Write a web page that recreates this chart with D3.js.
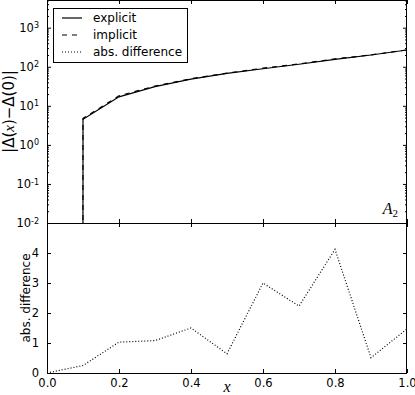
<!DOCTYPE html>
<html>
<head>
<meta charset="utf-8">
<script src="https://cdn.jsdelivr.net/npm/d3@7"></script>
<style>
  body { margin: 0; background: #fff; }
  svg { display: block; font-family: "DejaVu Sans", sans-serif; }
  .domain { display: none; }
</style>
</head>
<body>
<svg id="chart" width="415" height="395"></svg>
<script>
// data
const xs = [0.0, 0.1, 0.2, 0.3, 0.4, 0.5, 0.6, 0.7, 0.8, 0.9, 1.0];
const explicitVals = [0, 4.5, 17, 31, 48, 68, 89, 116, 155, 200, 269];
const implicitVals = [0, 4.75, 18.0, 32.1, 49.5, 68.6, 92.0, 118.2, 159.1, 200.5, 270.5];
const absDiff = [0.0, 0.25, 1.03, 1.08, 1.5, 0.64, 3.0, 2.23, 4.12, 0.51, 1.47];
const xTicks = [0, 0.2, 0.4, 0.6, 0.8, 1.0];
const logTicks = [1e-2, 1e-1, 1e0, 1e1, 1e2, 1e3];
const diffTicks = [0, 1, 2, 3, 4];
const legendLabels = ["explicit", "implicit", "abs. difference"];

const svg = d3.select("#chart");
const left = 47, right = 407;
const top1 = 0, bot1 = 223, bot2 = 373;

const x = d3.scaleLinear().domain([0, 1]).range([left, right]);
const yLog = d3.scaleLog().domain([1e-2, Math.pow(10, 223 / 39.06 - 2)]).range([bot1, top1]);
const yLin = d3.scaleLinear().domain([0, 5]).range([bot2, bot1]);

svg.append("defs").append("clipPath").attr("id", "clipTop")
  .append("rect").attr("x", left).attr("y", top1).attr("width", right - left).attr("height", bot1 - top1);

// minor log ticks
let minor = [];
for (let e = -2; e <= 3; e++) for (let m = 2; m <= 9; m++) {
  const v = m * Math.pow(10, e);
  if (v < yLog.domain()[1]) minor.push(v);
}

function fmtLog(g) {
  g.selectAll(".tick text").each(function(d) {
    const t = d3.select(this);
    const e = Math.round(Math.log10(d));
    t.text("10");
    t.append("tspan").attr("dy", "-0.45em").attr("font-size", "8px").text(e);
  });
}

// top panel axes
const gTop = svg.append("g");
gTop.append("g").attr("transform", `translate(${left},0)`)
  .call(d3.axisLeft(yLog).tickValues(minor).tickSize(-2).tickFormat(""));
gTop.append("g").attr("transform", `translate(${right},0)`)
  .call(d3.axisRight(yLog).tickValues(minor).tickSize(-2).tickFormat(""));
gTop.append("g").attr("transform", `translate(${right},0)`)
  .call(d3.axisRight(yLog).tickValues(logTicks).tickSize(-4).tickFormat(""));
gTop.append("g").attr("transform", `translate(${left},0)`)
  .call(d3.axisLeft(yLog).tickValues(logTicks).tickSize(-4).tickPadding(8))
  .call(fmtLog);
gTop.append("g").attr("transform", `translate(0,${bot1})`)
  .call(d3.axisBottom(x).tickValues(xTicks).tickSize(-4).tickFormat(""));
gTop.append("g").attr("transform", `translate(0,${top1})`)
  .call(d3.axisTop(x).tickValues(xTicks).tickSize(-4).tickFormat(""));

// bottom panel axes
const gBot = svg.append("g");
gBot.append("g").attr("transform", `translate(${left},0)`)
  .call(d3.axisLeft(yLin).tickValues(diffTicks).tickSize(-4).tickPadding(8).tickFormat(d3.format("d")));
gBot.append("g").attr("transform", `translate(${right},0)`)
  .call(d3.axisRight(yLin).tickValues(diffTicks).tickSize(-4).tickFormat(""));
gBot.append("g").attr("transform", `translate(0,${bot2})`)
  .call(d3.axisBottom(x).tickValues(xTicks).tickSize(-4).tickPadding(6).tickFormat(d3.format(".1f")));
gBot.append("g").attr("transform", `translate(0,${bot1})`)
  .call(d3.axisTop(x).tickValues(xTicks).tickSize(-4).tickFormat(""));

svg.selectAll(".tick line").attr("stroke", "#000");
svg.selectAll(".tick text").attr("fill", "#000").attr("font-size", "11.5px")
  .attr("font-family", "DejaVu Sans, sans-serif");

// lines
const yTop = v => v > 0 ? yLog(v) : 1e5;
const lineTop = vals => d3.line().x((d, i) => x(xs[i])).y(d => yTop(d))(vals);

const plotTop = svg.append("g").attr("clip-path", "url(#clipTop)");
plotTop.append("path").attr("d", lineTop(explicitVals))
  .attr("fill", "none").attr("stroke", "#000").attr("stroke-width", 1.2);
plotTop.append("path").attr("d", lineTop(implicitVals))
  .attr("fill", "none").attr("stroke", "#000").attr("stroke-width", 1.2)
  .attr("stroke-dasharray", "5,5");

svg.append("path")
  .attr("d", d3.line().x((d, i) => x(xs[i])).y(d => yLin(d))(absDiff))
  .attr("fill", "none").attr("stroke", "#000").attr("stroke-width", 1.2)
  .attr("stroke-dasharray", "1,2");

// frames
[[top1, bot1], [bot1, bot2]].forEach(([a, b]) => {
  svg.append("rect").attr("x", left + 0.5).attr("y", a + 0.5)
    .attr("width", right - left - 1).attr("height", b - a)
    .attr("fill", "none").attr("stroke", "#000").attr("stroke-width", 1);
});

// legend
const leg = svg.append("g");
leg.append("rect").attr("x", 53.5).attr("y", 8.5).attr("width", 134).attr("height", 54)
  .attr("fill", "#fff").attr("stroke", "#000").attr("stroke-width", 1);
const dashes = [null, "5,5", "1,2"];
legendLabels.forEach((lab, i) => {
  const yy = 18 + i * 17;
  leg.append("line").attr("x1", 62).attr("x2", 82).attr("y1", yy).attr("y2", yy)
    .attr("stroke", "#000").attr("stroke-width", 1.2)
    .attr("stroke-dasharray", dashes[i]);
  leg.append("text").attr("x", 93).attr("y", yy).attr("dy", "0.35em")
    .attr("font-size", "12px").text(lab);
});

// annotations
const a2 = svg.append("text").attr("x", 398).attr("y", 214).attr("text-anchor", "end")
  .attr("font-family", "Liberation Serif, serif").attr("font-style", "italic").attr("font-size", "16px")
  .text("A");
a2.append("tspan").attr("dy", "3").attr("font-style", "normal").attr("font-size", "11px").text("2");

svg.append("text").attr("x", x(0.5)).attr("y", 392).attr("text-anchor", "middle")
  .attr("font-family", "Liberation Serif, serif").attr("font-style", "italic").attr("font-size", "16px")
  .text("x");

const yl = svg.append("text").attr("transform", `translate(14,${(top1 + bot1) / 2}) rotate(-90)`)
  .attr("text-anchor", "middle").attr("font-size", "15px");
yl.append("tspan").text("|\u0394(");
yl.append("tspan").attr("font-family", "Liberation Serif, serif").attr("font-style", "italic").text("x");
yl.append("tspan").text(")\u2212\u0394(0)|");

svg.append("text").attr("transform", `translate(30,${(bot1 + bot2) / 2}) rotate(-90)`)
  .attr("text-anchor", "middle").attr("font-size", "12px").text("abs. difference");
</script>
</body>
</html>
